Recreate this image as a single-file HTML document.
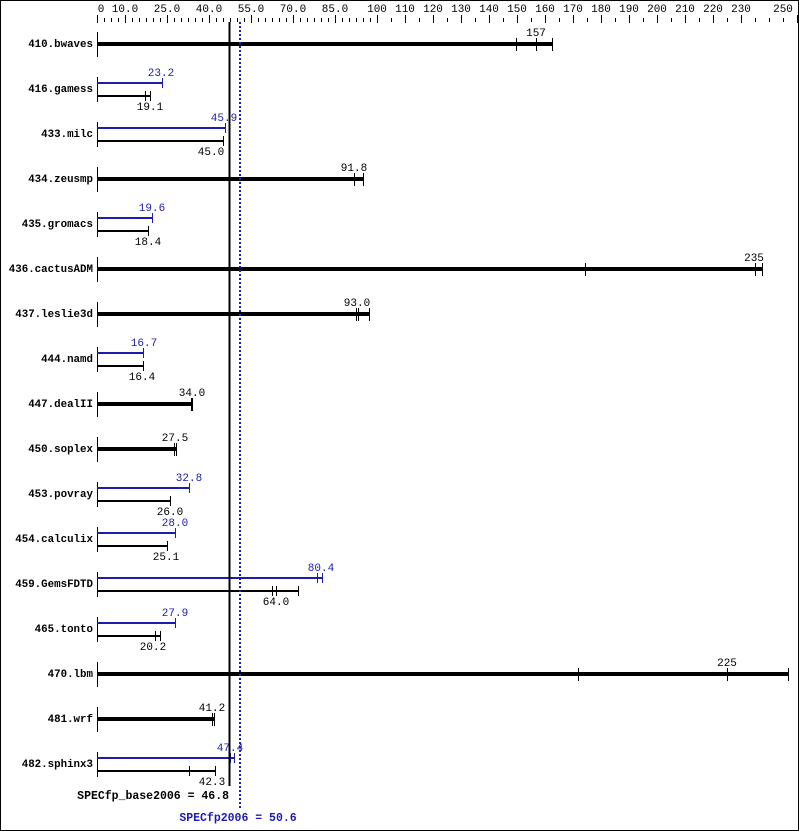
<!DOCTYPE html>
<html><head><meta charset="utf-8"><style>
html,body{margin:0;padding:0;background:#fff}
svg{display:block}
text{font-family:"Liberation Mono","DejaVu Sans Mono",monospace;font-size:11px}
.l{font-weight:bold;text-anchor:end;font-size:10.8px}
.v{text-anchor:middle}
.b{fill:#1c1cb0}
</style></head><body>
<svg width="799" height="831" viewBox="0 0 799 831" xmlns="http://www.w3.org/2000/svg">
<rect x="0.5" y="0.5" width="798" height="830" fill="#fff" stroke="#000"/>
<g text-anchor="middle">
<text x="101" y="12">0</text><text x="125" y="12">10.0</text><text x="167" y="12">25.0</text><text x="209" y="12">40.0</text><text x="251" y="12">55.0</text><text x="293" y="12">70.0</text><text x="335" y="12">85.0</text><text x="377" y="12">100</text><text x="405" y="12">110</text><text x="433" y="12">120</text><text x="461" y="12">130</text><text x="489" y="12">140</text><text x="517" y="12">150</text><text x="545" y="12">160</text><text x="573" y="12">170</text><text x="601" y="12">180</text><text x="629" y="12">190</text><text x="657" y="12">200</text><text x="685" y="12">210</text><text x="713" y="12">220</text><text x="741" y="12">230</text><text x="783" y="12">250</text>
</g>
<g stroke="#000" stroke-width="1">
<path d="M97.5 15v8M104.5 18v4M111.5 18v4M118.5 18v4M125.5 15v8M132.5 18v4M139.5 18v4M146.5 18v4M153.5 18v4M160.5 18v4M167.5 15v8M174.5 18v4M181.5 18v4M188.5 18v4M195.5 18v4M202.5 18v4M209.5 15v8M216.5 18v4M223.5 18v4M230.5 18v4M237.5 18v4M244.5 18v4M251.5 15v8M258.5 18v4M265.5 18v4M272.5 18v4M279.5 18v4M286.5 18v4M293.5 15v8M300.5 18v4M307.5 18v4M314.5 18v4M321.5 18v4M328.5 18v4M335.5 15v8M342.5 18v4M349.5 18v4M356.5 18v4M363.5 18v4M370.5 18v4M377.5 15v8M391.5 18v4M405.5 15v8M419.5 18v4M433.5 15v8M447.5 18v4M461.5 15v8M475.5 18v4M489.5 15v8M503.5 18v4M517.5 15v8M531.5 18v4M545.5 15v8M559.5 18v4M573.5 15v8M587.5 18v4M601.5 15v8M615.5 18v4M629.5 15v8M643.5 18v4M657.5 15v8M671.5 18v4M685.5 15v8M699.5 18v4M713.5 15v8M727.5 18v4M741.5 15v8M755.5 18v4M769.5 18v4M783.5 18v4M797.5 15v8"/>
</g>
<g stroke="#000" stroke-width="1">
<path d="M97.5 32v25M97.5 77v25M97.5 122v25M97.5 167v25M97.5 212v25M97.5 257v25M97.5 302v25M97.5 347v25M97.5 392v25M97.5 437v25M97.5 482v25M97.5 527v25M97.5 572v25M97.5 617v25M97.5 662v25M97.5 707v25M97.5 752v25"/>
</g>
<g>
<text class="l" x="93" y="47">410.bwaves</text>
<text class="l" x="93" y="92">416.gamess</text>
<text class="l" x="93" y="137">433.milc</text>
<text class="l" x="93" y="182">434.zeusmp</text>
<text class="l" x="93" y="227">435.gromacs</text>
<text class="l" x="93" y="272">436.cactusADM</text>
<text class="l" x="93" y="317">437.leslie3d</text>
<text class="l" x="93" y="362">444.namd</text>
<text class="l" x="93" y="407">447.dealII</text>
<text class="l" x="93" y="452">450.soplex</text>
<text class="l" x="93" y="497">453.povray</text>
<text class="l" x="93" y="542">454.calculix</text>
<text class="l" x="93" y="587">459.GemsFDTD</text>
<text class="l" x="93" y="632">465.tonto</text>
<text class="l" x="93" y="677">470.lbm</text>
<text class="l" x="93" y="722">481.wrf</text>
<text class="l" x="93" y="767">482.sphinx3</text>
</g>
<g stroke="#000">
<path stroke-width="4" d="M97 44H552M97 179H363M97 269H762M97 314H369M97 404H192M97 449H176M97 674H788M97 719H214"/>
<path stroke-width="1" d="M516.5 38v13M536.5 38v13M552.5 38v13M354.5 173v13M363.5 173v13M585.5 263v13M755.5 263v13M762.5 263v13M356.5 308v13M358.5 308v13M369.5 308v13M191.5 398v13M192.5 398v13M174.5 443v13M176.5 443v13M578.5 668v13M727.5 668v13M788.5 668v13M212.5 713v13M214.5 713v13"/>
</g>
<g class="v">
<text class="v" x="536" y="36">157</text>
<text class="v" x="354" y="171">91.8</text>
<text class="v" x="754" y="261">235</text>
<text class="v" x="357" y="306">93.0</text>
<text class="v" x="192" y="396">34.0</text>
<text class="v" x="175" y="441">27.5</text>
<text class="v" x="727" y="666">225</text>
<text class="v" x="212" y="711">41.2</text>
</g>
<g stroke="#1c1cb0">
<path stroke-width="2" d="M97 83H162M97 128H225M97 218H152M97 353H144M97 488H189M97 533H175M97 578H322M97 623H175M97 758H234"/>
<path stroke-width="1" d="M162.5 78v10M225.5 123v10M152.5 213v10M143.5 348v10M189.5 483v10M175.5 528v10M317.5 573v10M322.5 573v10M175.5 618v10M230.5 753v10M234.5 753v10"/>
</g>
<g fill="#1c1cb0">
<text class="v" x="161" y="76">23.2</text>
<text class="v" x="224" y="121">45.9</text>
<text class="v" x="152" y="211">19.6</text>
<text class="v" x="144" y="346">16.7</text>
<text class="v" x="189" y="481">32.8</text>
<text class="v" x="175" y="526">28.0</text>
<text class="v" x="321" y="571">80.4</text>
<text class="v" x="175" y="616">27.9</text>
<text class="v" x="230" y="751">47.4</text>
</g>
<g stroke="#000">
<path stroke-width="2" d="M97 96H150M97 141H223M97 231H149M97 366H143M97 501H170M97 546H167M97 591H298M97 636H160M97 771H215"/>
<path stroke-width="1" d="M145.5 91v10M150.5 91v10M223.5 136v10M148.5 226v10M143.5 361v10M170.5 496v10M167.5 541v10M272.5 586v10M276.5 586v10M298.5 586v10M155.5 631v10M160.5 631v10M189.5 766v10M215.5 766v10"/>
</g>
<g>
<text class="v" x="150" y="110">19.1</text>
<text class="v" x="211" y="155">45.0</text>
<text class="v" x="148" y="245">18.4</text>
<text class="v" x="142" y="380">16.4</text>
<text class="v" x="170" y="515">26.0</text>
<text class="v" x="166" y="560">25.1</text>
<text class="v" x="276" y="605">64.0</text>
<text class="v" x="153" y="650">20.2</text>
<text class="v" x="212" y="785">42.3</text>
</g>
<line x1="229.5" y1="22" x2="229.5" y2="786" stroke="#000" stroke-width="2"/>
<line x1="240" y1="22" x2="240" y2="808" stroke="#1c1cb0" stroke-width="2" stroke-dasharray="2,2"/>
<text x="229" y="799" text-anchor="end" font-weight="bold" style="font-size:11.5px">SPECfp_base2006 = 46.8</text>
<text x="238" y="821" text-anchor="middle" font-weight="bold" fill="#1c1cb0" style="font-size:11.5px">SPECfp2006 = 50.6</text>
</svg>
</body></html>
